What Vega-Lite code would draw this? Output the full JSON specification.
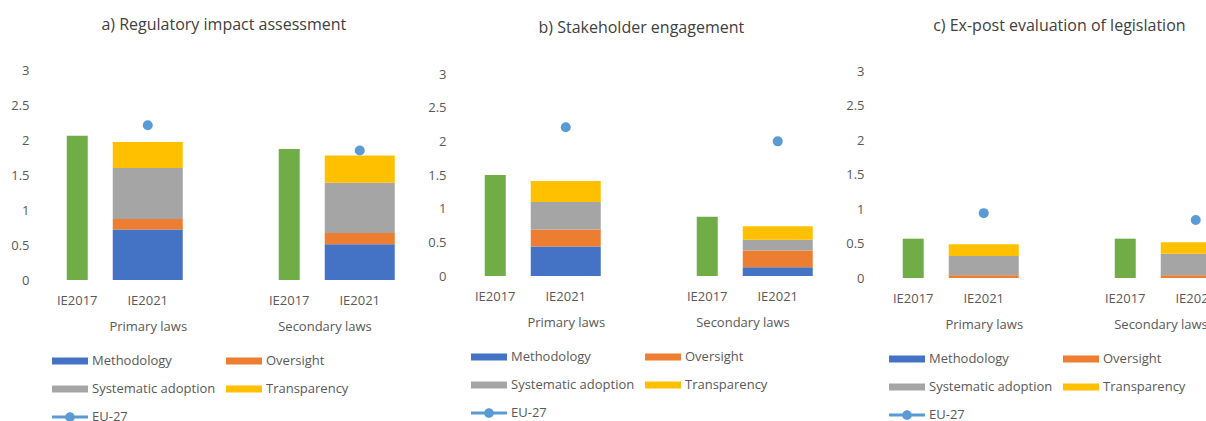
{
  "$schema": "https://vega.github.io/schema/vega-lite/v6.json",
  "padding": {"left": 10, "top": 17, "right": 0, "bottom": 0},
  "background": "white",
  "config": {
    "view": {"stroke": null},
    "font": "Open Sans",
    "axis": {"domain": false, "ticks": false, "grid": false, "labelFont": "Open Sans", "labelFontSize": 13, "labelColor": "#595959", "labelOverlap": false, "titleFont": "Open Sans", "titleFontSize": 13, "titleFontWeight": "normal", "titleColor": "#595959", "titlePadding": 13},
    "axisY": {"values": [0, 0.5, 1, 1.5, 2, 2.5, 3], "format": "~g", "labelPadding": 13},
    "axisX": {"labelAngle": 0, "labelPadding": 14, "labelExpr": "datum.value === 'gap' ? '' : datum.value"},
    "legend": {"labelFont": "Open Sans", "labelFontSize": 13, "labelColor": "#595959"},
    "title": {"font": "Open Sans", "fontSize": 16, "fontWeight": "normal", "color": "#404040", "anchor": "middle"}
  },
  "datasets": {
    "d": [
      {"panel": "a", "group": "Primary laws", "year": "IE2017", "series": "IE2017", "value": 2.06},
      {"panel": "a", "group": "Primary laws", "year": "IE2021", "series": "Methodology", "value": 0.72},
      {"panel": "a", "group": "Primary laws", "year": "IE2021", "series": "Oversight", "value": 0.15},
      {"panel": "a", "group": "Primary laws", "year": "IE2021", "series": "Systematic adoption", "value": 0.73},
      {"panel": "a", "group": "Primary laws", "year": "IE2021", "series": "Transparency", "value": 0.37},
      {"panel": "a", "group": "Primary laws", "year": "IE2021", "series": "EU-27", "value": 2.21},
      {"panel": "a", "group": "Secondary laws", "year": "IE2017", "series": "IE2017", "value": 1.87},
      {"panel": "a", "group": "Secondary laws", "year": "IE2021", "series": "Methodology", "value": 0.51},
      {"panel": "a", "group": "Secondary laws", "year": "IE2021", "series": "Oversight", "value": 0.16},
      {"panel": "a", "group": "Secondary laws", "year": "IE2021", "series": "Systematic adoption", "value": 0.72},
      {"panel": "a", "group": "Secondary laws", "year": "IE2021", "series": "Transparency", "value": 0.39},
      {"panel": "a", "group": "Secondary laws", "year": "IE2021", "series": "EU-27", "value": 1.85},
      {"panel": "b", "group": "Primary laws", "year": "IE2017", "series": "IE2017", "value": 1.5},
      {"panel": "b", "group": "Primary laws", "year": "IE2021", "series": "Methodology", "value": 0.44},
      {"panel": "b", "group": "Primary laws", "year": "IE2021", "series": "Oversight", "value": 0.25},
      {"panel": "b", "group": "Primary laws", "year": "IE2021", "series": "Systematic adoption", "value": 0.41},
      {"panel": "b", "group": "Primary laws", "year": "IE2021", "series": "Transparency", "value": 0.31},
      {"panel": "b", "group": "Primary laws", "year": "IE2021", "series": "EU-27", "value": 2.21},
      {"panel": "b", "group": "Secondary laws", "year": "IE2017", "series": "IE2017", "value": 0.88},
      {"panel": "b", "group": "Secondary laws", "year": "IE2021", "series": "Methodology", "value": 0.13},
      {"panel": "b", "group": "Secondary laws", "year": "IE2021", "series": "Oversight", "value": 0.25},
      {"panel": "b", "group": "Secondary laws", "year": "IE2021", "series": "Systematic adoption", "value": 0.16},
      {"panel": "b", "group": "Secondary laws", "year": "IE2021", "series": "Transparency", "value": 0.2},
      {"panel": "b", "group": "Secondary laws", "year": "IE2021", "series": "EU-27", "value": 2.0},
      {"panel": "c", "group": "Primary laws", "year": "IE2017", "series": "IE2017", "value": 0.57},
      {"panel": "c", "group": "Primary laws", "year": "IE2021", "series": "Methodology", "value": 0.0},
      {"panel": "c", "group": "Primary laws", "year": "IE2021", "series": "Oversight", "value": 0.04},
      {"panel": "c", "group": "Primary laws", "year": "IE2021", "series": "Systematic adoption", "value": 0.28},
      {"panel": "c", "group": "Primary laws", "year": "IE2021", "series": "Transparency", "value": 0.17},
      {"panel": "c", "group": "Primary laws", "year": "IE2021", "series": "EU-27", "value": 0.94},
      {"panel": "c", "group": "Secondary laws", "year": "IE2017", "series": "IE2017", "value": 0.57},
      {"panel": "c", "group": "Secondary laws", "year": "IE2021", "series": "Methodology", "value": 0.0},
      {"panel": "c", "group": "Secondary laws", "year": "IE2021", "series": "Oversight", "value": 0.04},
      {"panel": "c", "group": "Secondary laws", "year": "IE2021", "series": "Systematic adoption", "value": 0.31},
      {"panel": "c", "group": "Secondary laws", "year": "IE2021", "series": "Transparency", "value": 0.17},
      {"panel": "c", "group": "Secondary laws", "year": "IE2021", "series": "EU-27", "value": 0.84}
    ]
  },
  "resolve": {"legend": {"color": "independent"}},
  "spacing": 32,
  "hconcat": [
    {
      "data": {"name": "d"},
      "transform": [{"filter": "datum.panel === 'a'"}],
      "title": {"text": "a) Regulatory impact assessment", "offset": 35, "dy": 4, "dx": 21},
      "spacing": 0,
      "hconcat": [
        {
          "transform": [{"filter": "datum.group === 'Primary laws'"}],
          "width": 211.5, "height": 210,
          "layer": [
            {"transform": [{"filter": "datum.series === 'IE2017'"}], "mark": {"type": "bar", "size": 21, "color": "#70AD47"},
             "encoding": {"x": {"field": "year", "type": "nominal", "title": "Primary laws", "scale": {"domain": ["IE2017", "IE2021", "gap"], "paddingInner": 0, "paddingOuter": 0}},
                          "y": {"field": "value", "type": "quantitative", "title": null, "scale": {"domain": [0, 3], "nice": false}}}},
            {"transform": [{"filter": "datum.series !== 'IE2017' && datum.series !== 'EU-27'"}], "mark": {"type": "bar", "size": 70},
             "encoding": {"x": {"field": "year", "type": "nominal"}, "y": {"field": "value", "type": "quantitative", "stack": "zero"},
                          "order": {"field": "series", "type": "nominal", "sort": "ascending"},
                          "color": {"field": "series", "type": "nominal", "scale": {"domain": ["Methodology", "Oversight", "Systematic adoption", "Transparency", "EU-27"], "range": ["#4472C4", "#ED7D31", "#A5A5A5", "#FFC000", "#5B9BD5"]},
                            "legend": {"title": null, "orient": "none", "legendX": 10, "legendY": 273, "direction": "horizontal", "columns": 2, "columnPadding": 10, "rowPadding": 3, "symbolSize": 1296, "labelOffset": 4, "symbolStrokeWidth": 0,
                              "encode": {"symbols": {"update": {"shape": {"signal": "datum.value === 'EU-27' ? 'M-1,-0.09H1V0.09H-1Z M-0.27,0A0.27,0.27 0 1,1 0.27,0A0.27,0.27 0 1,1 -0.27,0Z' : 'M-1,-0.19H1V0.19H-1Z'"}, "strokeWidth": {"value": 0}, "opacity": {"value": 1}}}}}}}},
            {"transform": [{"filter": "datum.series === 'EU-27'"}], "mark": {"type": "point", "filled": true, "size": 100, "opacity": 1},
             "encoding": {"x": {"field": "year", "type": "nominal"}, "y": {"field": "value", "type": "quantitative"}, "color": {"field": "series", "type": "nominal"}}}
          ]
        },
        {
          "transform": [{"filter": "datum.group === 'Secondary laws'"}],
          "width": 141, "height": 210,
          "layer": [
            {"transform": [{"filter": "datum.series === 'IE2017'"}], "mark": {"type": "bar", "size": 21, "color": "#70AD47"},
             "encoding": {"x": {"field": "year", "type": "nominal", "title": "Secondary laws", "scale": {"domain": ["IE2017", "IE2021"], "paddingInner": 0, "paddingOuter": 0}},
                          "y": {"field": "value", "type": "quantitative", "axis": null, "scale": {"domain": [0, 3], "nice": false}}}},
            {"transform": [{"filter": "datum.series !== 'IE2017' && datum.series !== 'EU-27'"}], "mark": {"type": "bar", "size": 70},
             "encoding": {"x": {"field": "year", "type": "nominal"}, "y": {"field": "value", "type": "quantitative", "stack": "zero"},
                          "order": {"field": "series", "type": "nominal", "sort": "ascending"},
                          "color": {"field": "series", "type": "nominal"}}},
            {"transform": [{"filter": "datum.series === 'EU-27'"}], "mark": {"type": "point", "filled": true, "size": 100, "opacity": 1},
             "encoding": {"x": {"field": "year", "type": "nominal"}, "y": {"field": "value", "type": "quantitative"}, "color": {"field": "series", "type": "nominal"}}}
          ]
        }
      ]
    },
    {
      "data": {"name": "d"},
      "transform": [{"filter": "datum.panel === 'b'"}],
      "title": {"text": "b) Stakeholder engagement", "offset": 35, "dy": 3, "dx": 21},
      "spacing": 0,
      "hconcat": [
        {
          "transform": [{"filter": "datum.group === 'Primary laws'"}],
          "width": 211.5, "height": 206,
          "layer": [
            {"transform": [{"filter": "datum.series === 'IE2017'"}], "mark": {"type": "bar", "size": 21, "color": "#70AD47"},
             "encoding": {"x": {"field": "year", "type": "nominal", "title": "Primary laws", "scale": {"domain": ["IE2017", "IE2021", "gap"], "paddingInner": 0, "paddingOuter": 0}},
                          "y": {"field": "value", "type": "quantitative", "title": null, "scale": {"domain": [0, 3.06], "nice": false}, "axis": {"labelPadding": 14}}}},
            {"transform": [{"filter": "datum.series !== 'IE2017' && datum.series !== 'EU-27'"}], "mark": {"type": "bar", "size": 70},
             "encoding": {"x": {"field": "year", "type": "nominal"}, "y": {"field": "value", "type": "quantitative", "stack": "zero"},
                          "order": {"field": "series", "type": "nominal", "sort": "ascending"},
                          "color": {"field": "series", "type": "nominal", "scale": {"domain": ["Methodology", "Oversight", "Systematic adoption", "Transparency", "EU-27"], "range": ["#4472C4", "#ED7D31", "#A5A5A5", "#FFC000", "#5B9BD5"]},
                            "legend": {"title": null, "orient": "none", "legendX": 11, "legendY": 269, "direction": "horizontal", "columns": 2, "columnPadding": 10, "rowPadding": 3, "symbolSize": 1296, "labelOffset": 4, "symbolStrokeWidth": 0,
                              "encode": {"symbols": {"update": {"shape": {"signal": "datum.value === 'EU-27' ? 'M-1,-0.09H1V0.09H-1Z M-0.27,0A0.27,0.27 0 1,1 0.27,0A0.27,0.27 0 1,1 -0.27,0Z' : 'M-1,-0.19H1V0.19H-1Z'"}, "strokeWidth": {"value": 0}, "opacity": {"value": 1}}}}}}}},
            {"transform": [{"filter": "datum.series === 'EU-27'"}], "mark": {"type": "point", "filled": true, "size": 100, "opacity": 1},
             "encoding": {"x": {"field": "year", "type": "nominal"}, "y": {"field": "value", "type": "quantitative"}, "color": {"field": "series", "type": "nominal"}}}
          ]
        },
        {
          "transform": [{"filter": "datum.group === 'Secondary laws'"}],
          "width": 141, "height": 206,
          "layer": [
            {"transform": [{"filter": "datum.series === 'IE2017'"}], "mark": {"type": "bar", "size": 21, "color": "#70AD47"},
             "encoding": {"x": {"field": "year", "type": "nominal", "title": "Secondary laws", "scale": {"domain": ["IE2017", "IE2021"], "paddingInner": 0, "paddingOuter": 0}},
                          "y": {"field": "value", "type": "quantitative", "axis": null, "scale": {"domain": [0, 3.06], "nice": false}}}},
            {"transform": [{"filter": "datum.series !== 'IE2017' && datum.series !== 'EU-27'"}], "mark": {"type": "bar", "size": 70},
             "encoding": {"x": {"field": "year", "type": "nominal"}, "y": {"field": "value", "type": "quantitative", "stack": "zero"},
                          "order": {"field": "series", "type": "nominal", "sort": "ascending"},
                          "color": {"field": "series", "type": "nominal"}}},
            {"transform": [{"filter": "datum.series === 'EU-27'"}], "mark": {"type": "point", "filled": true, "size": 100, "opacity": 1},
             "encoding": {"x": {"field": "year", "type": "nominal"}, "y": {"field": "value", "type": "quantitative"}, "color": {"field": "series", "type": "nominal"}}}
          ]
        }
      ]
    },
    {
      "data": {"name": "d"},
      "transform": [{"filter": "datum.panel === 'c'"}],
      "title": {"text": "c) Ex-post evaluation of legislation", "offset": 35, "dy": 4, "dx": 21},
      "spacing": 0,
      "hconcat": [
        {
          "transform": [{"filter": "datum.group === 'Primary laws'"}],
          "width": 211.5, "height": 208,
          "layer": [
            {"transform": [{"filter": "datum.series === 'IE2017'"}], "mark": {"type": "bar", "size": 21, "color": "#70AD47"},
             "encoding": {"x": {"field": "year", "type": "nominal", "title": "Primary laws", "scale": {"domain": ["IE2017", "IE2021", "gap"], "paddingInner": 0, "paddingOuter": 0}},
                          "y": {"field": "value", "type": "quantitative", "title": null, "scale": {"domain": [0, 3.015], "nice": false}, "axis": {"labelPadding": 14}}}},
            {"transform": [{"filter": "datum.series !== 'IE2017' && datum.series !== 'EU-27'"}], "mark": {"type": "bar", "size": 70},
             "encoding": {"x": {"field": "year", "type": "nominal"}, "y": {"field": "value", "type": "quantitative", "stack": "zero"},
                          "order": {"field": "series", "type": "nominal", "sort": "ascending"},
                          "color": {"field": "series", "type": "nominal", "scale": {"domain": ["Methodology", "Oversight", "Systematic adoption", "Transparency", "EU-27"], "range": ["#4472C4", "#ED7D31", "#A5A5A5", "#FFC000", "#5B9BD5"]},
                            "legend": {"title": null, "orient": "none", "legendX": 11, "legendY": 271, "direction": "horizontal", "columns": 2, "columnPadding": 10, "rowPadding": 3, "symbolSize": 1296, "labelOffset": 4, "symbolStrokeWidth": 0,
                              "encode": {"symbols": {"update": {"shape": {"signal": "datum.value === 'EU-27' ? 'M-1,-0.09H1V0.09H-1Z M-0.27,0A0.27,0.27 0 1,1 0.27,0A0.27,0.27 0 1,1 -0.27,0Z' : 'M-1,-0.19H1V0.19H-1Z'"}, "strokeWidth": {"value": 0}, "opacity": {"value": 1}}}}}}}},
            {"transform": [{"filter": "datum.series === 'EU-27'"}], "mark": {"type": "point", "filled": true, "size": 100, "opacity": 1},
             "encoding": {"x": {"field": "year", "type": "nominal"}, "y": {"field": "value", "type": "quantitative"}, "color": {"field": "series", "type": "nominal"}}}
          ]
        },
        {
          "transform": [{"filter": "datum.group === 'Secondary laws'"}],
          "width": 141, "height": 208,
          "layer": [
            {"transform": [{"filter": "datum.series === 'IE2017'"}], "mark": {"type": "bar", "size": 21, "color": "#70AD47"},
             "encoding": {"x": {"field": "year", "type": "nominal", "title": "Secondary laws", "scale": {"domain": ["IE2017", "IE2021"], "paddingInner": 0, "paddingOuter": 0}},
                          "y": {"field": "value", "type": "quantitative", "axis": null, "scale": {"domain": [0, 3.015], "nice": false}}}},
            {"transform": [{"filter": "datum.series !== 'IE2017' && datum.series !== 'EU-27'"}], "mark": {"type": "bar", "size": 70},
             "encoding": {"x": {"field": "year", "type": "nominal"}, "y": {"field": "value", "type": "quantitative", "stack": "zero"},
                          "order": {"field": "series", "type": "nominal", "sort": "ascending"},
                          "color": {"field": "series", "type": "nominal"}}},
            {"transform": [{"filter": "datum.series === 'EU-27'"}], "mark": {"type": "point", "filled": true, "size": 100, "opacity": 1},
             "encoding": {"x": {"field": "year", "type": "nominal"}, "y": {"field": "value", "type": "quantitative"}, "color": {"field": "series", "type": "nominal"}}}
          ]
        }
      ]
    }
  ]
}
